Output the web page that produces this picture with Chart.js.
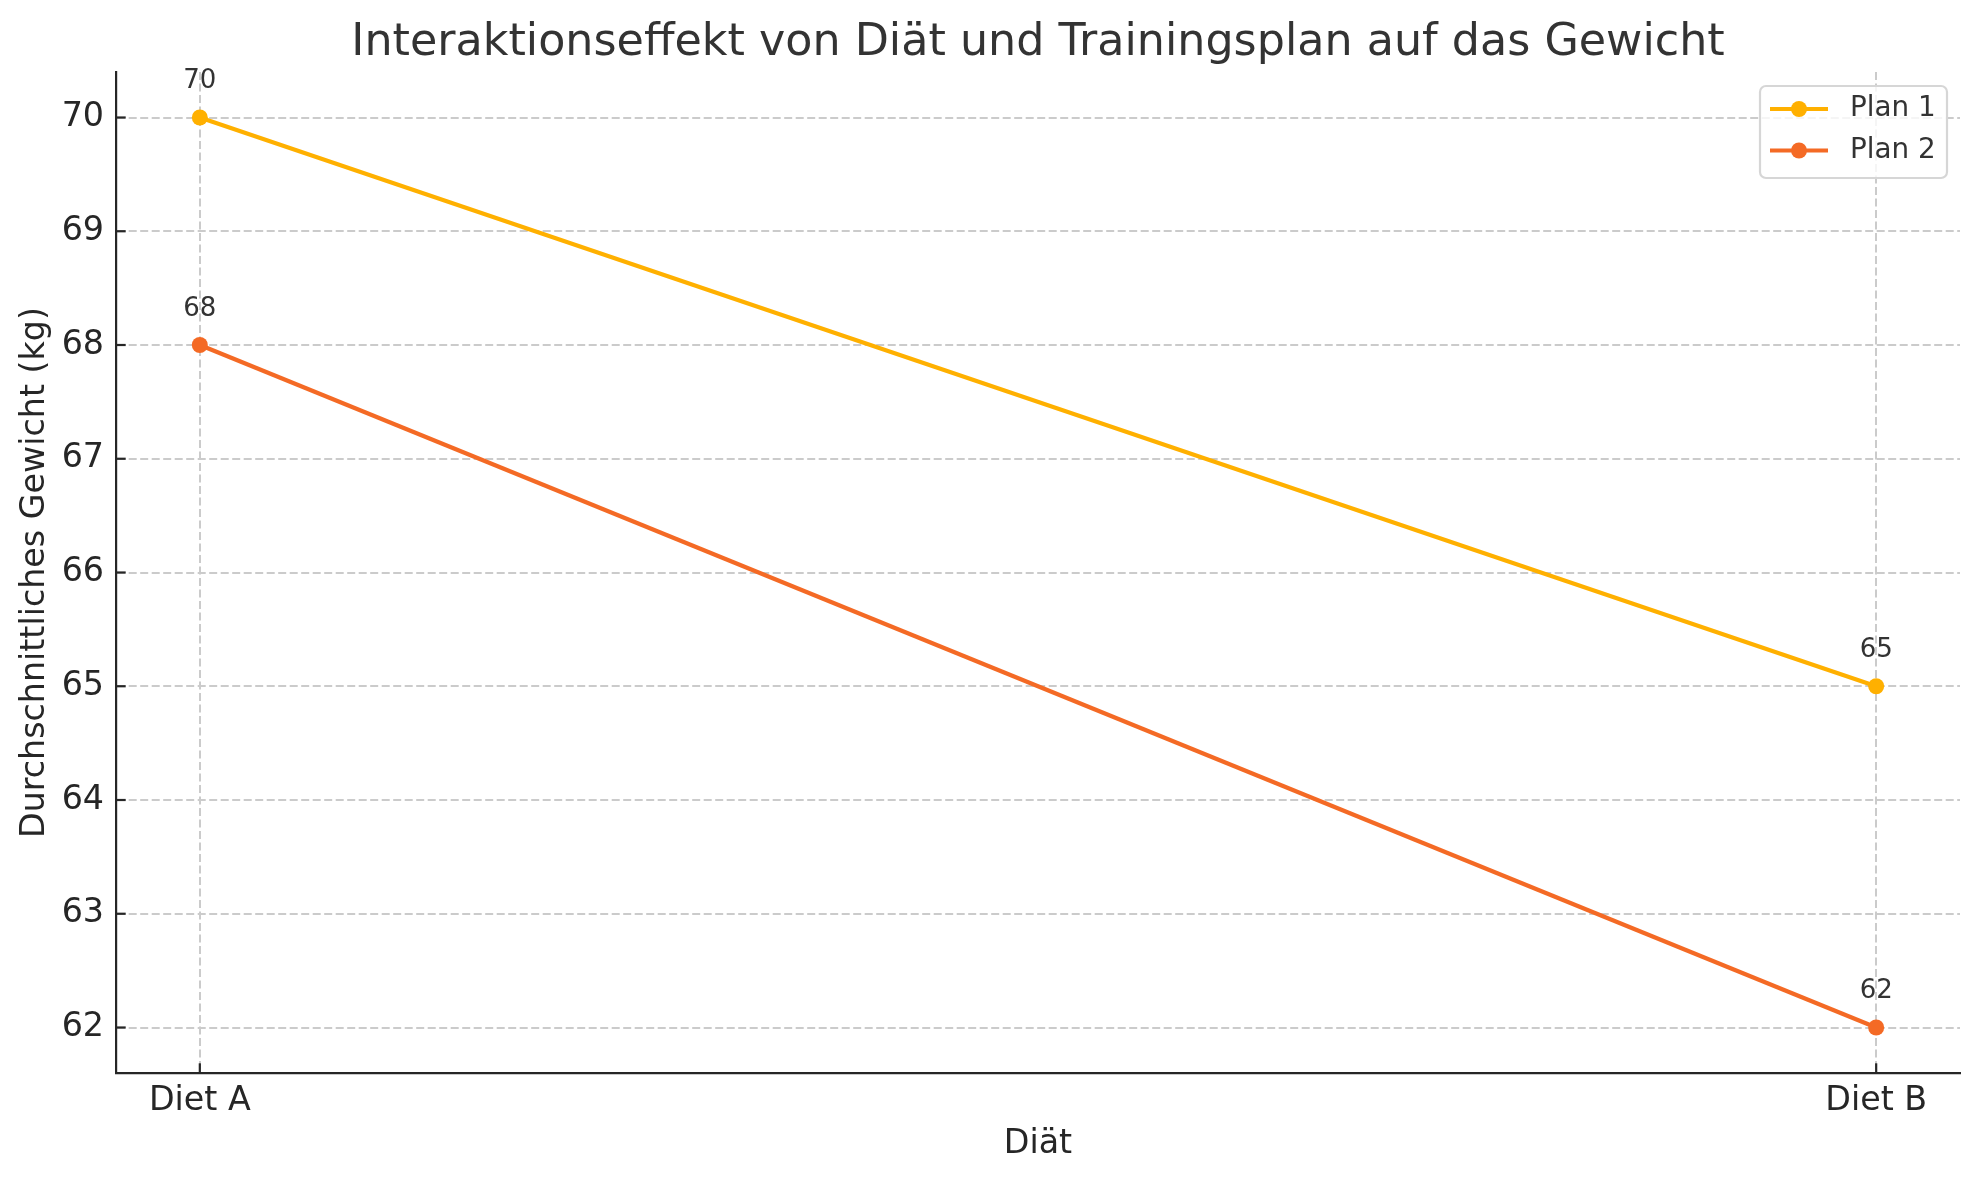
<!DOCTYPE html>
<html>
<head>
<meta charset="utf-8">
<script src="https://cdn.jsdelivr.net/npm/chart.js@4.4.1/dist/chart.umd.min.js"></script>
<style>
  html, body { margin: 0; padding: 0; background: #ffffff; }
  #wrap { width: 1979px; height: 1180px; position: relative; }
</style>
</head>
<body>
<div id="wrap"><canvas id="c"></canvas></div>
<script>
// ---- data ----
const categories = ["Diet A", "Diet B"];
const seriesNames = ["Plan 1", "Plan 2"];
const plan1Values = [70, 65];
const plan2Values = [68, 62];
const yTickValues = [62, 63, 64, 65, 66, 67, 68, 69, 70];
const titleText = "Interaktionseffekt von Diät und Trainingsplan auf das Gewicht";
const xAxisLabel = "Diät";
const yAxisLabel = "Durchschnittliches Gewicht (kg)";

// ---- styles ----
const colors = ["#FFB000", "#F46A25"];
const FONT = "'DejaVu Sans', 'Liberation Sans', sans-serif";
const axisColor = "#262626";
const gridColor = "#cbcbcb";

const allSeries = [plan1Values, plan2Values];
const datasets = allSeries.map((vals, si) => ({
  label: seriesNames[si],
  data: vals.map((v, i) => ({ x: i, y: v })),
  borderColor: colors[si],
  backgroundColor: colors[si],
  pointBackgroundColor: colors[si],
  pointBorderColor: colors[si],
  pointBorderWidth: 0,
  pointRadius: 8,
  pointHoverRadius: 8,
  borderWidth: 4.2,
  tension: 0,
  fill: false
}));

// title centred over plot area, inward tick marks, data labels, legend
const extrasPlugin = {
  id: 'extras',
  afterDraw(chart) {
    const ctx = chart.ctx;
    const xs = chart.scales.x, ys = chart.scales.y;
    const area = chart.chartArea;
    ctx.save();
    // title
    ctx.fillStyle = "#333333";
    ctx.font = "44.4px " + FONT;
    ctx.textAlign = "center";
    ctx.textBaseline = "middle";
    ctx.fillText(titleText, (area.left + area.right) / 2, 43);
    // inward ticks
    ctx.strokeStyle = axisColor;
    ctx.lineWidth = 2.2;
    ys.ticks.forEach(t => {
      const y = ys.getPixelForValue(t.value);
      ctx.beginPath(); ctx.moveTo(area.left, y); ctx.lineTo(area.left + 9.7, y); ctx.stroke();
    });
    xs.ticks.forEach(t => {
      const x = xs.getPixelForValue(t.value);
      ctx.beginPath(); ctx.moveTo(x, area.bottom); ctx.lineTo(x, area.bottom - 9.7); ctx.stroke();
    });
    // data labels
    ctx.fillStyle = "#333333";
    ctx.font = "26px " + FONT;
    ctx.textAlign = "center";
    ctx.textBaseline = "alphabetic";
    chart.data.datasets.forEach((ds, di) => {
      const meta = chart.getDatasetMeta(di);
      meta.data.forEach((pt, i) => {
        ctx.fillText(String(ds.data[i].y), pt.x, pt.y - 29.5);
      });
    });
    // legend
    const bx = 1760, by = 86, bw = 187, bh = 92, r = 6;
    ctx.beginPath();
    ctx.moveTo(bx + r, by);
    ctx.lineTo(bx + bw - r, by); ctx.arcTo(bx + bw, by, bx + bw, by + r, r);
    ctx.lineTo(bx + bw, by + bh - r); ctx.arcTo(bx + bw, by + bh, bx + bw - r, by + bh, r);
    ctx.lineTo(bx + r, by + bh); ctx.arcTo(bx, by + bh, bx, by + bh - r, r);
    ctx.lineTo(bx, by + r); ctx.arcTo(bx, by, bx + r, by, r);
    ctx.closePath();
    ctx.fillStyle = "rgba(255,255,255,0.8)";
    ctx.fill();
    ctx.strokeStyle = "#d6d6d6";
    ctx.lineWidth = 2.2;
    ctx.stroke();
    const rows = [109, 150.5];
    chart.data.datasets.forEach((ds, di) => {
      const y = rows[di];
      ctx.strokeStyle = ds.borderColor;
      ctx.lineWidth = 4.2;
      ctx.beginPath(); ctx.moveTo(1770, y); ctx.lineTo(1828, y); ctx.stroke();
      ctx.fillStyle = ds.borderColor;
      ctx.beginPath(); ctx.arc(1799, y, 8, 0, Math.PI * 2); ctx.fill();
      ctx.fillStyle = "#333333";
      ctx.font = "27.8px " + FONT;
      ctx.textAlign = "left";
      ctx.textBaseline = "middle";
      ctx.fillText(ds.label, 1850, y);
    });
    ctx.restore();
  }
};

new Chart(document.getElementById('c'), {
  type: 'line',
  data: { datasets },
  plugins: [extrasPlugin],
  options: {
    responsive: true,
    maintainAspectRatio: false,
    devicePixelRatio: 1,
    animation: false,
    events: [],
    layout: { padding: { left: 0, right: 19, top: 72, bottom: 0 } },
    plugins: {
      legend: { display: false },
      tooltip: { enabled: false },
      title: { display: false }
    },
    scales: {
      x: {
        type: 'linear',
        min: -0.05,
        max: 1.05,
        afterBuildTicks: (s) => { s.ticks = categories.map((c, i) => ({ value: i })); },
        afterFit: (s) => { s.height = 107; },
        ticks: {
          color: axisColor,
          font: { family: FONT, size: 33.3 },
          padding: 8,
          maxRotation: 0,
          autoSkip: false,
          callback: (v) => categories[v]
        },
        grid: { color: gridColor, lineWidth: 2, drawTicks: false },
        border: { display: true, color: axisColor, width: 2.2, dash: [8, 3.5] },
        title: {
          display: true,
          text: xAxisLabel,
          color: axisColor,
          font: { family: FONT, size: 33.3, lineHeight: 1.2 },
          padding: { top: 0, bottom: 16 }
        }
      },
      y: {
        type: 'linear',
        min: 61.6,
        max: 70.4,
        afterBuildTicks: (s) => { s.ticks = yTickValues.map(v => ({ value: v })); },
        afterFit: (s) => { s.width = 116; },
        ticks: {
          color: axisColor,
          font: { family: FONT, size: 33.3 },
          padding: 12,
          autoSkip: false,
          callback: (v) => String(v)
        },
        grid: { color: gridColor, lineWidth: 2, drawTicks: false },
        border: { display: true, color: axisColor, width: 2.2, dash: [8, 3.5] },
        title: {
          display: true,
          text: yAxisLabel,
          color: axisColor,
          font: { family: FONT, size: 33.3, lineHeight: 1.2 },
          padding: { top: 15, bottom: 0 }
        }
      }
    }
  }
});
</script>
</body>
</html>
